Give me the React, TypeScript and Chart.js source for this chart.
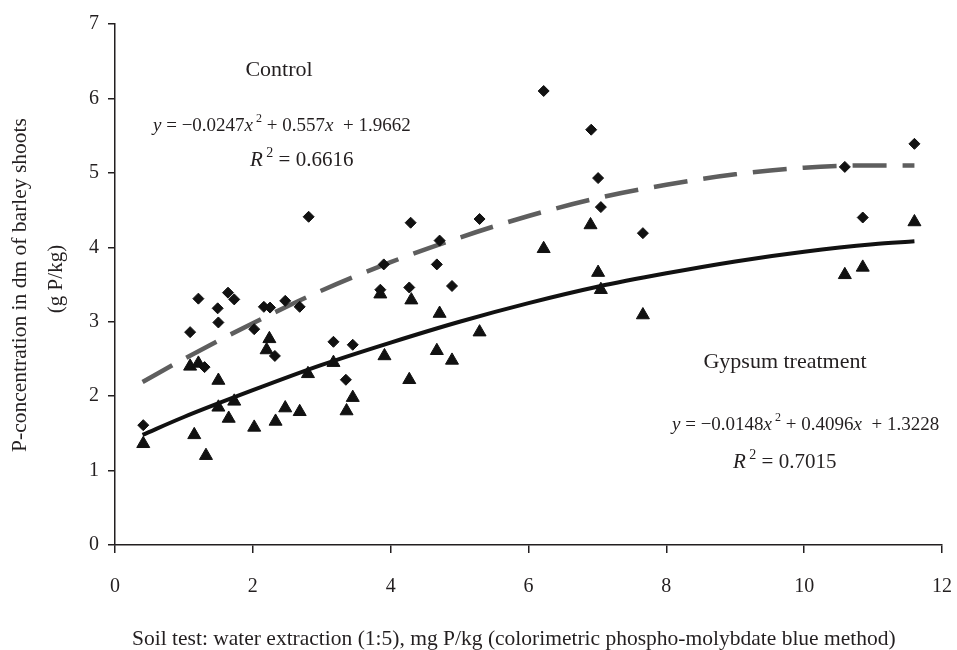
import React, { useEffect, useRef } from "react";
import { Chart, registerables } from "chart.js";

Chart.register(...registerables);

// ---- data ----
const controlX = [0.41, 1.09, 1.21, 1.3, 1.49, 1.5, 1.64, 1.73, 2.02, 2.16, 2.25, 2.32, 2.47, 2.68, 2.81, 3.17, 3.35, 3.45, 3.85, 3.9, 4.27, 4.29, 4.67, 4.71, 4.89, 5.29, 6.22, 6.91, 7.01, 7.05, 7.66, 10.59, 10.85, 11.6];
const controlY = [1.61, 2.86, 3.31, 2.39, 3.18, 2.99, 3.39, 3.3, 2.9, 3.2, 3.19, 2.54, 3.28, 3.2, 4.41, 2.73, 2.22, 2.69, 3.43, 3.77, 3.46, 4.33, 3.77, 4.09, 3.48, 4.38, 6.1, 5.58, 4.93, 4.54, 4.19, 5.08, 4.4, 5.39];

const gypsumX = [0.41, 1.09, 1.15, 1.21, 1.32, 1.5, 1.5, 1.65, 1.73, 2.02, 2.2, 2.24, 2.33, 2.47, 2.68, 2.8, 3.17, 3.36, 3.45, 3.85, 3.91, 4.27, 4.3, 4.67, 4.71, 4.89, 5.29, 6.22, 6.9, 7.01, 7.05, 7.66, 10.59, 10.85, 11.6];
const gypsumY = [1.36, 2.4, 1.48, 2.44, 1.2, 2.21, 1.85, 1.7, 1.93, 1.58, 2.62, 2.77, 1.66, 1.84, 1.79, 2.3, 2.45, 1.8, 1.98, 3.37, 2.54, 2.22, 3.29, 2.61, 3.11, 2.48, 2.86, 3.98, 4.3, 3.66, 3.43, 3.09, 3.63, 3.73, 4.34];

const trendX = [0.4, 1, 2, 3, 4, 5, 6, 7, 8, 9, 10, 11, 11.6];
const controlTrendY = [2.19, 2.5, 2.98, 3.42, 3.8, 4.13, 4.42, 4.66, 4.84, 4.98, 5.07, 5.1, 5.1];
const gypsumTrendY = [1.48, 1.72, 2.08, 2.42, 2.72, 3.0, 3.25, 3.47, 3.65, 3.81, 3.94, 4.04, 4.08];

const xTicks = [0, 2, 4, 6, 8, 10, 12];
const yTicks = [0, 1, 2, 3, 4, 5, 6, 7];

const xTitle = "Soil test: water extraction (1:5), mg P/kg (colorimetric phospho-molybdate blue method)";
const yTitleLines = ["P-concentration in dm of barley shoots", "(g P/kg)"];

const controlLabel = "Control";
const controlEq = [
  { t: "y", i: true },
  { t: " = \u22120.0247" },
  { t: "x", i: true },
  { t: " 2", s: true },
  { t: " + 0.557" },
  { t: "x", i: true },
  { t: "  + 1.9662" },
];
const controlR2 = "0.6616";

const gypsumLabel = "Gypsum treatment";
const gypsumEq = [
  { t: "y", i: true },
  { t: " = \u22120.0148" },
  { t: "x", i: true },
  { t: " 2", s: true },
  { t: " + 0.4096" },
  { t: "x", i: true },
  { t: "  + 1.3228" },
];
const gypsumR2 = "0.7015";

const FONT = "'Liberation Serif', 'Times New Roman', serif";
const INK = "#231f20";

type Part = { t: string; i?: boolean; s?: boolean };

function drawParts(ctx: CanvasRenderingContext2D, parts: Part[], x: number, y: number, size: number) {
  let cx = x;
  for (const p of parts) {
    if (p.s) {
      ctx.font = `${Math.round(size * 0.65)}px ${FONT}`;
      ctx.fillText(p.t, cx, y - size * 0.45);
    } else {
      ctx.font = `${p.i ? "italic " : ""}${size}px ${FONT}`;
      ctx.fillText(p.t, cx, y);
    }
    cx += ctx.measureText(p.t).width;
  }
}

const textPlugin = {
  id: "textPlugin",
  afterDraw(chart: any) {
    const ctx: CanvasRenderingContext2D = chart.ctx;
    ctx.save();
    ctx.fillStyle = INK;
    ctx.textBaseline = "alphabetic";

    // axis titles
    ctx.textAlign = "center";
    const yt = [
      { x: 20, y: 285, size: 21.5 },
      { x: 56, y: 279, size: 21 },
    ];
    yTitleLines.forEach((line, k) => {
      ctx.save();
      ctx.font = `${yt[k].size}px ${FONT}`;
      ctx.translate(yt[k].x, yt[k].y);
      ctx.rotate(-Math.PI / 2);
      ctx.textBaseline = "middle";
      ctx.fillText(line, 0, 0);
      ctx.restore();
    });
    ctx.textAlign = "left";
    ctx.font = `21.5px ${FONT}`;
    ctx.fillText(xTitle, 132, 645);

    // annotations
    ctx.font = `22px ${FONT}`;
    ctx.textAlign = "center";
    ctx.fillText(controlLabel, 279, 76);
    ctx.fillText(gypsumLabel, 785, 368);
    ctx.textAlign = "left";
    drawParts(ctx, controlEq, 153, 131, 19);
    drawParts(ctx, gypsumEq, 672, 430, 19);
    drawParts(ctx, [{ t: "R", i: true }, { t: " 2", s: true }, { t: " = " + controlR2 }], 250, 166, 21);
    drawParts(ctx, [{ t: "R", i: true }, { t: " 2", s: true }, { t: " = " + gypsumR2 }], 733, 468, 21);
    ctx.restore();
  },
};

export default function App() {
  const ref = useRef<HTMLCanvasElement | null>(null);

  useEffect(() => {
    if (!ref.current) return;
    const pts = (xs: number[], ys: number[]) => xs.map((x, k) => ({ x, y: ys[k] }));
    const chart = new Chart(ref.current, {
      type: "scatter",
      data: {
        datasets: [
          {
            label: "Control",
            data: pts(controlX, controlY),
            pointStyle: "rectRot",
            pointRadius: 5.5,
            backgroundColor: "#111",
            borderColor: "#111",
            borderWidth: 1,
            showLine: false,
          },
          {
            label: "Gypsum treatment",
            data: pts(gypsumX, gypsumY),
            pointStyle: "triangle",
            pointRadius: 7.5,
            backgroundColor: "#111",
            borderColor: "#111",
            borderWidth: 1,
            showLine: false,
          },
          {
            label: "Control trend",
            data: pts(trendX, controlTrendY),
            showLine: true,
            pointRadius: 0,
            borderColor: "#5e5e5e",
            borderWidth: 4.5,
            borderDash: [34, 16],
            cubicInterpolationMode: "monotone",
            fill: false,
          },
          {
            label: "Gypsum trend",
            data: pts(trendX, gypsumTrendY),
            showLine: true,
            pointRadius: 0,
            borderColor: "#111",
            borderWidth: 4,
            cubicInterpolationMode: "monotone",
            fill: false,
          },
        ],
      } as any,
      options: {
        animation: false,
        responsive: false,
        layout: { padding: { top: 24, right: 15, left: 0, bottom: 0 } },
        plugins: { legend: { display: false }, tooltip: { enabled: false } },
        scales: {
          x: {
            type: "linear",
            min: 0,
            max: 12,
            afterBuildTicks: (s: any) => {
              s.ticks = xTicks.map((v) => ({ value: v }));
            },
            afterFit: (s: any) => {
              s.height = 105;
              s.paddingLeft = 0;
              s.paddingRight = 0;
            },
            grid: { drawOnChartArea: false, drawTicks: true, tickLength: 8, color: INK, lineWidth: 1.5 },
            border: { color: INK, width: 1.5 },
            ticks: { padding: 22, color: INK, font: { family: FONT, size: 20 }, maxRotation: 0, autoSkip: false },
          },
          y: {
            type: "linear",
            min: 0,
            max: 7,
            afterBuildTicks: (s: any) => {
              s.ticks = yTicks.map((v) => ({ value: v }));
            },
            afterFit: (s: any) => {
              s.width = 115;
              s.paddingTop = 0;
              s.paddingBottom = 0;
            },
            grid: { drawOnChartArea: false, drawTicks: true, tickLength: 7, color: INK, lineWidth: 1.5 },
            border: { color: INK, width: 1.5 },
            ticks: { padding: 9, color: INK, font: { family: FONT, size: 20 }, autoSkip: false },
          },
        },
      } as any,
      plugins: [textPlugin],
    });
    return () => chart.destroy();
  }, []);

  return (
    <div style={{ position: "fixed", left: 0, top: 0, width: 957, height: 650, background: "#fff" }}>
      <canvas ref={ref} width={957} height={650} />
    </div>
  );
}
